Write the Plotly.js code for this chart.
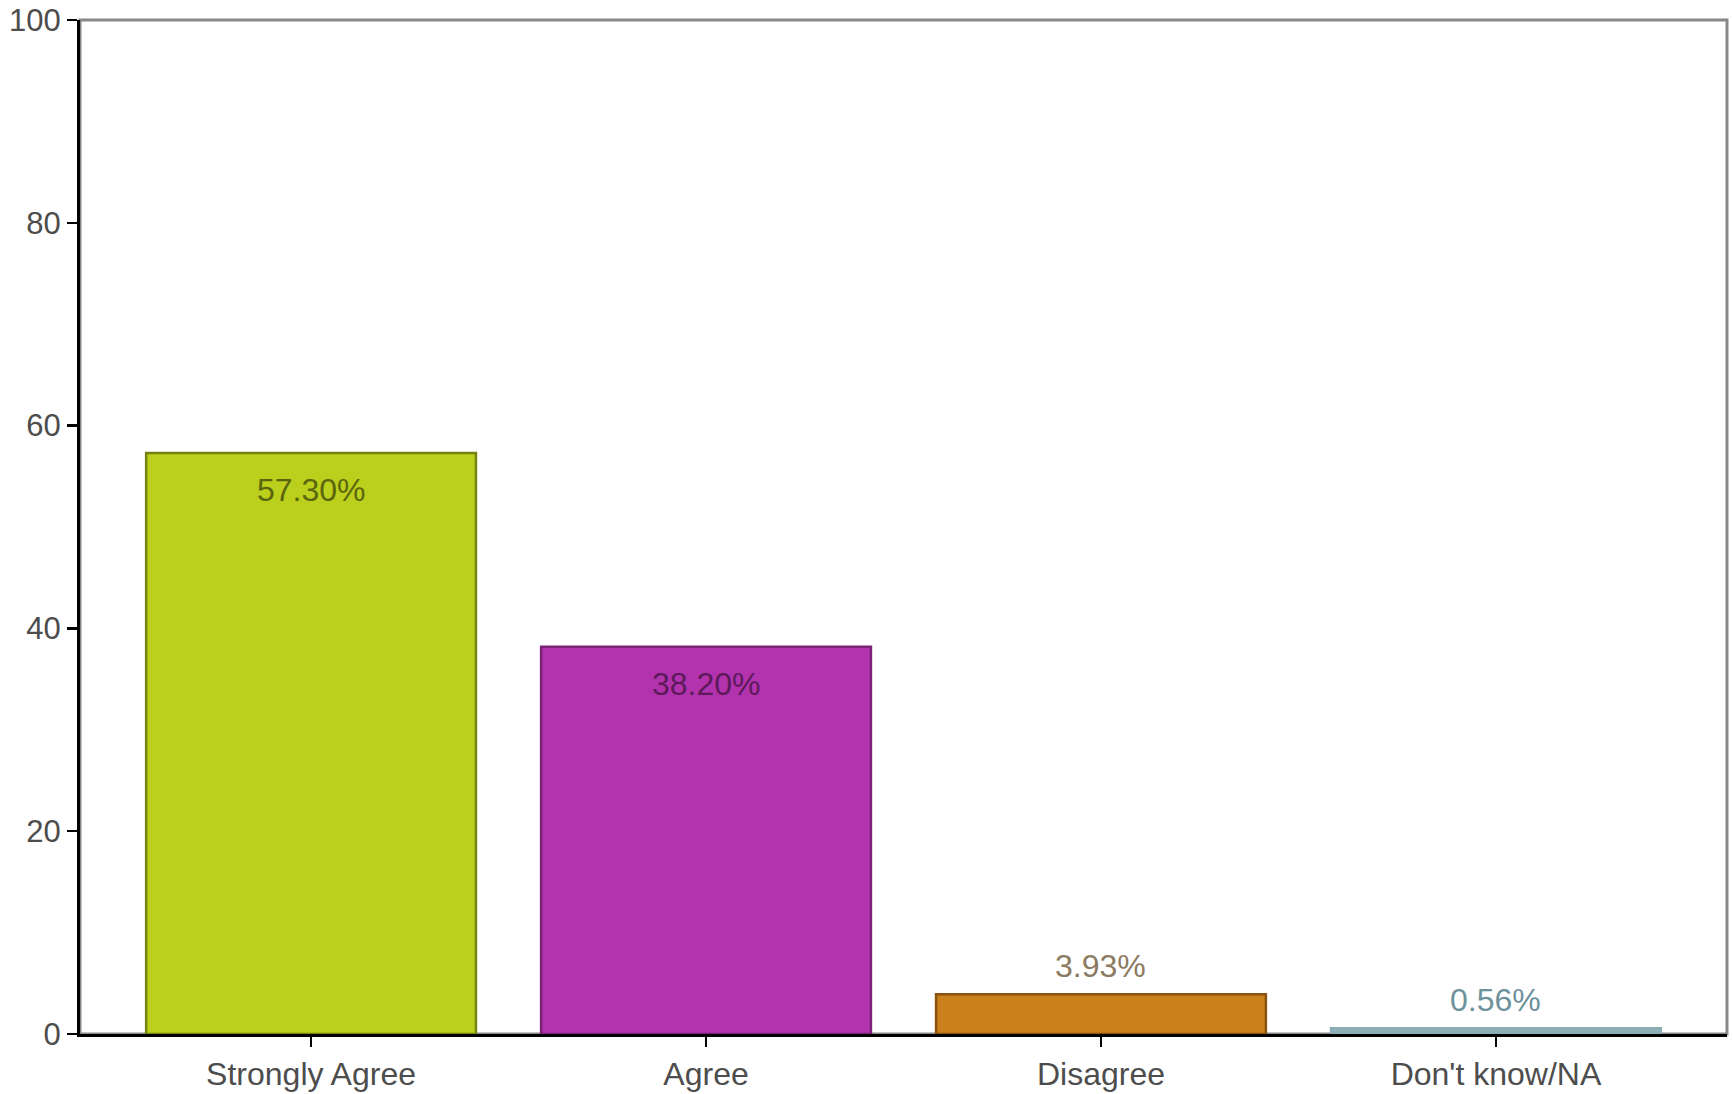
<!DOCTYPE html>
<html>
<head>
<meta charset="utf-8">
<script src="https://cdn.plot.ly/plotly-3.0.1.min.js"></script>
<style>html,body{margin:0;padding:0;background:#fff;}#chart{width:1733px;height:1094px;}</style>
</head>
<body>
<div id="chart"></div>
<script>
const categories = ["Strongly Agree", "Agree", "Disagree", "Don't know/NA"];
const values = [57.30, 38.20, 3.93, 0.56];
const labels = ["57.30%", "38.20%", "3.93%", "0.56%"];
const fillColors = ["#bbcf1d", "#b333ae", "#cc821c", "#8eb1b8"];
const lineColors = ["#76840f", "#7a2276", "#8a5410", "#8aadb4"];
const labelColors = ["#5a660e", "#5c1a5a", "#8c7a62", "#6d929b"];
const yTicks = [0, 20, 40, 60, 80, 100];

const xIdx = categories.map((c, i) => i);

const trace = {
  type: 'bar',
  x: xIdx,
  y: values,
  width: 0.835,
  marker: {color: fillColors, line: {color: lineColors, width: 2.5}},
  hoverinfo: 'skip'
};

const annotations = values.map((v, i) => {
  const inside = v > 10;
  return {
    x: xIdx[i], y: v, xref: 'x', yref: 'y',
    text: labels[i], showarrow: false,
    xanchor: 'center', yanchor: 'middle',
    yshift: inside ? -37 : 28,
    font: {family: 'Liberation Sans, Arial, sans-serif', size: 32, color: labelColors[i]}
  };
});

const layout = {
  width: 1733, height: 1094,
  margin: {l: 80, r: 6, t: 20, b: 60},
  paper_bgcolor: '#ffffff', plot_bgcolor: '#ffffff',
  showlegend: false,
  bargap: 0,
  xaxis: {
    range: [-0.585, 3.585],
    tickmode: 'array', tickvals: xIdx, ticktext: categories,
    showgrid: false, zeroline: false,
    showline: true, linecolor: '#000000', linewidth: 3,
    ticks: 'outside', ticklen: 10, tickwidth: 2.5, tickcolor: '#000000',
    tickfont: {family: 'Liberation Sans, Arial, sans-serif', size: 32, color: '#4d4d4d'}
  },
  yaxis: {
    range: [0, 100],
    tickmode: 'array', tickvals: yTicks, ticktext: yTicks.map(String),
    showgrid: false, zeroline: false,
    showline: true, linecolor: '#000000', linewidth: 3,
    ticks: 'outside', ticklen: 10, tickwidth: 2.5, tickcolor: '#000000',
    tickfont: {family: 'Liberation Sans, Arial, sans-serif', size: 31, color: '#4d4d4d'}
  },
  shapes: [{
    type: 'rect', xref: 'paper', yref: 'paper', x0: 0, x1: 1, y0: 0, y1: 1,
    line: {color: '#888888', width: 3}, fillcolor: 'rgba(0,0,0,0)', layer: 'below'
  }],
  annotations: annotations
};

Plotly.newPlot('chart', [trace], layout, {displayModeBar: false, staticPlot: true});
</script>
</body>
</html>
